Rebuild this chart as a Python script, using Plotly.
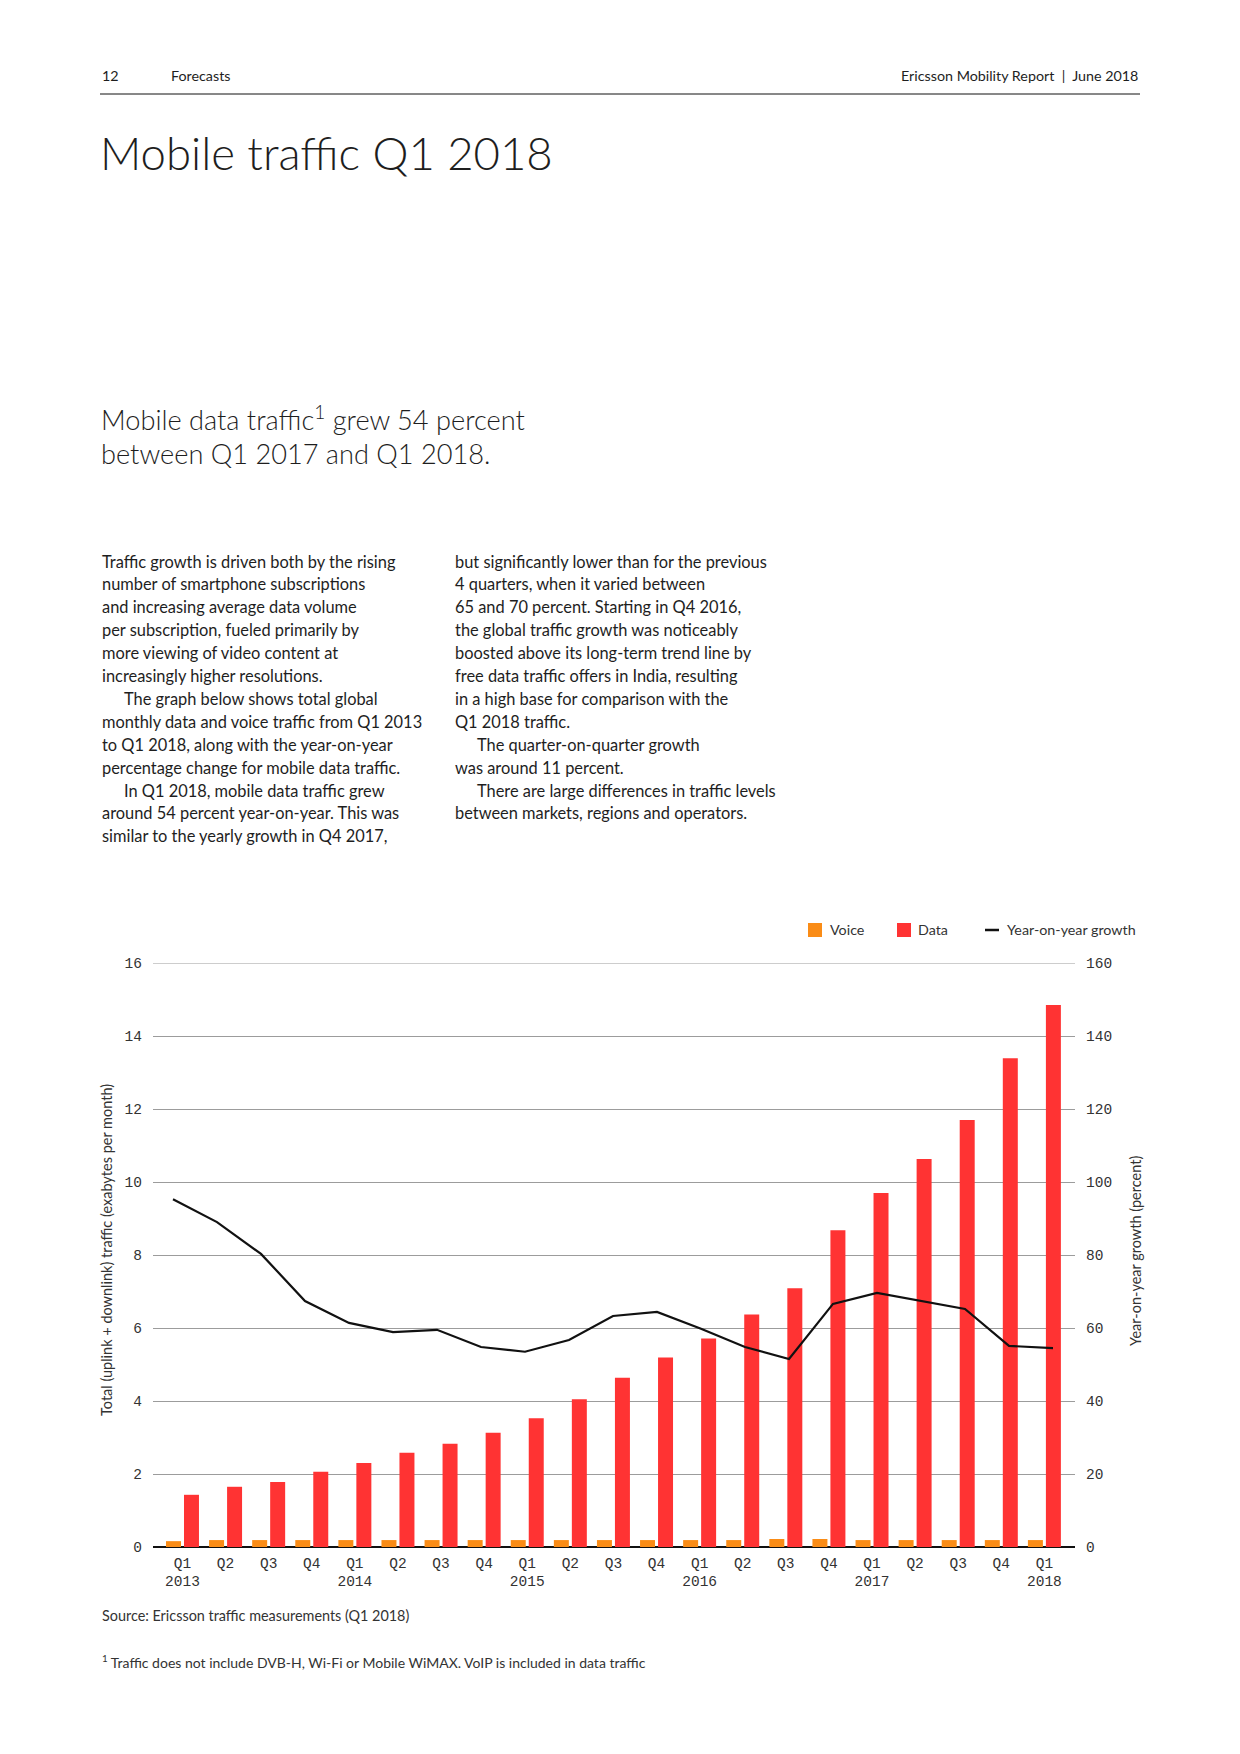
import plotly.graph_objects as go

# ---------------- data ----------------
quarters = ["Q1 2013", "Q2 2013", "Q3 2013", "Q4 2013",
            "Q1 2014", "Q2 2014", "Q3 2014", "Q4 2014",
            "Q1 2015", "Q2 2015", "Q3 2015", "Q4 2015",
            "Q1 2016", "Q2 2016", "Q3 2016", "Q4 2016",
            "Q1 2017", "Q2 2017", "Q3 2017", "Q4 2017",
            "Q1 2018"]
tick_labels = ["Q1<br>2013", "Q2", "Q3", "Q4",
               "Q1<br>2014", "Q2", "Q3", "Q4",
               "Q1<br>2015", "Q2", "Q3", "Q4",
               "Q1<br>2016", "Q2", "Q3", "Q4",
               "Q1<br>2017", "Q2", "Q3", "Q4",
               "Q1<br>2018"]
voice_eb = [0.16, 0.19, 0.19, 0.19, 0.19, 0.19, 0.19, 0.19, 0.19, 0.19, 0.19,
            0.19, 0.19, 0.19, 0.22, 0.22, 0.19, 0.19, 0.19, 0.19, 0.19]
data_eb = [1.43, 1.65, 1.78, 2.06, 2.30, 2.58, 2.83, 3.13, 3.53, 4.05, 4.64,
           5.19, 5.71, 6.37, 7.09, 8.68, 9.70, 10.63, 11.70, 13.39, 14.85]
yoy_growth = [95.3, 89.0, 80.3, 67.4, 61.4, 58.9, 59.5, 54.8, 53.5, 56.7, 63.3,
              64.4, 59.8, 54.8, 51.5, 66.6, 69.6, 67.4, 65.2, 55.1, 54.5]
left_ticks = [0, 2, 4, 6, 8, 10, 12, 14, 16]
right_ticks = [0, 20, 40, 60, 80, 100, 120, 140, 160]

# ---------------- page geometry (pixels on the 1240x1754 page) ----------------
W, H = 1240, 1754
BODY = 8                                 # default page margin of the html body
PL, PR, PT, PB = 153, 1075, 963, 1547    # plot area


def px(x):
    return (x - PL) / (PR - PL)


def py(y):
    return (PB - y) / (PB - PT)


TXT = "Lato, 'Noto Sans', sans-serif"
MONO = "'Liberation Mono', 'DejaVu Sans Mono', monospace"
INK = "#1e1e1e"
GREY = "#333333"
GRID = "#9c9c9c"
ORANGE = "#FA8C16"
RED = "#FF3333"
TICKF = dict(family=MONO, size=14.5, color=GREY)

fig = go.Figure()
fig.add_trace(go.Bar(x=quarters, y=voice_eb, name="Voice",
                     marker=dict(color=ORANGE, line=dict(width=0))))
fig.add_trace(go.Bar(x=quarters, y=data_eb, name="Data",
                     marker=dict(color=RED, line=dict(width=0))))
fig.add_trace(go.Scatter(x=quarters, y=yoy_growth, name="Year-on-year growth",
                         mode="lines", line=dict(color="#111111", width=2.2),
                         xaxis="x2", yaxis="y2"))

fig.update_layout(
    width=W - BODY, height=H - BODY,
    margin=dict(l=PL - BODY, r=W - PR, t=PT - BODY, b=H - PB, pad=0),
    paper_bgcolor="white", plot_bgcolor="white",
    showlegend=False,
    barmode="group", bargap=0.165, bargroupgap=0.167,
    font=dict(family=TXT, color=INK),
    xaxis=dict(type="category", categoryorder="array", categoryarray=quarters,
               range=[-0.684, 20.71], tickvals=quarters, ticktext=tick_labels,
               tickfont=TICKF, showgrid=False, ticks="", showline=False,
               zeroline=False, ticklabelstandoff=5),
    xaxis2=dict(type="category", categoryorder="array", categoryarray=quarters,
                range=[-0.4545, 20.5], overlaying="x", anchor="y2",
                visible=False),
    yaxis=dict(range=[0, 16], tickvals=left_ticks, tickfont=TICKF,
               showgrid=True, gridcolor=GRID, gridwidth=1,
               zeroline=True, zerolinecolor="#111111", zerolinewidth=1.5,
               ticks="", showline=False, ticklabelstandoff=10),
    yaxis2=dict(range=[0, 160], tickvals=right_ticks, overlaying="y",
                side="right", anchor="x", tickfont=TICKF,
                showgrid=False, zeroline=False, ticks="", showline=False,
                ticklabelstandoff=10),
)

ann = []


def text(x, y, s, size, xanchor="left", color=INK, weight=None, angle=0, family=TXT):
    f = dict(family=family, size=size, color=color)
    if weight is not None:
        f["weight"] = weight
    ann.append(dict(x=px(x), y=py(y), xref="paper", yref="paper", text=s,
                    showarrow=False, xanchor=xanchor, yanchor="middle",
                    align="left", font=f, textangle=angle))


# header
text(100, 75, "12", 14.3)
text(169, 75, "Forecasts", 14.3)
text(1140, 75, "Ericsson Mobility Report  |  June 2018", 14.3, xanchor="right")

# title and subtitle
text(98, 152, "Mobile traffic Q1 2018", 45.5, weight=300)
text(99, 418, "Mobile data traffic<sup>1</sup> grew 54 percent", 27.2, weight=300)
text(99, 454, "between Q1 2017 and Q1 2018.", 27.2, weight=300)

# body text
col1 = ["Traffic growth is driven both by the rising",
        "number of smartphone subscriptions",
        "and increasing average data volume",
        "per subscription, fueled primarily by",
        "more viewing of video content at",
        "increasingly higher resolutions.",
        "\tThe graph below shows total global",
        "monthly data and voice traffic from Q1 2013",
        "to Q1 2018, along with the year-on-year",
        "percentage change for mobile data traffic.",
        "\tIn Q1 2018, mobile data traffic grew",
        "around 54 percent year-on-year. This was",
        "similar to the yearly growth in Q4 2017,"]
col2 = ["but significantly lower than for the previous",
        "4 quarters, when it varied between",
        "65 and 70 percent. Starting in Q4 2016,",
        "the global traffic growth was noticeably",
        "boosted above its long-term trend line by",
        "free data traffic offers in India, resulting",
        "in a high base for comparison with the",
        "Q1 2018 traffic.",
        "\tThe quarter-on-quarter growth",
        "was around 11 percent.",
        "\tThere are large differences in traffic levels",
        "between markets, regions and operators."]
for cx, lines in ((100, col1), (453, col2)):
    for i, ln in enumerate(lines):
        indent = 22 if ln.startswith("\t") else 0
        text(cx + indent, 561 + i * 22.9, ln.lstrip("\t"), 16.4)

shapes = []
# top gridline at 16 (plotly drops the grid line lying on the plot edge)
shapes.append(dict(type="line", xref="paper", yref="y", x0=0, x1=1,
                   y0=left_ticks[-1], y1=left_ticks[-1], layer="below",
                   line=dict(color=GRID, width=1)))

# legend (drawn manually)
shapes.append(dict(type="rect", xref="paper", yref="paper",
                   x0=px(808), x1=px(822), y0=py(937), y1=py(923),
                   fillcolor=ORANGE, line=dict(width=0)))
shapes.append(dict(type="rect", xref="paper", yref="paper",
                   x0=px(897), x1=px(911), y0=py(937), y1=py(923),
                   fillcolor=RED, line=dict(width=0)))
shapes.append(dict(type="line", xref="paper", yref="paper",
                   x0=px(985), x1=px(999), y0=py(930), y1=py(930),
                   line=dict(color="#111111", width=2.5)))
text(828, 929, "Voice", 14.3, color=GREY)
text(916, 929, "Data", 14.3, color=GREY)
text(1005, 929, "Year-on-year growth", 14.3, color=GREY)

# axis titles
text(106, 1250, "Total (uplink + downlink) traffic (exabytes per month)", 14.5,
     xanchor="center", color=GREY, angle=-90)
text(1135, 1251, "Year-on-year growth (percent)", 14.5,
     xanchor="center", color=GREY, angle=-90)

# header rule
shapes.append(dict(type="line", xref="paper", yref="paper",
                   x0=px(100), x1=px(1140), y0=py(94), y1=py(94),
                   line=dict(color="#111111", width=1)))

# source and footnote
text(100, 1615, "Source: Ericsson traffic measurements (Q1 2018)", 14.4, color=GREY)
text(100, 1661, "<sup>1</sup> Traffic does not include DVB-H, Wi-Fi or Mobile WiMAX. "
     "VoIP is included in data traffic", 14, color=GREY)

fig.update_layout(annotations=ann, shapes=shapes)
fig.write_html("out.html")
